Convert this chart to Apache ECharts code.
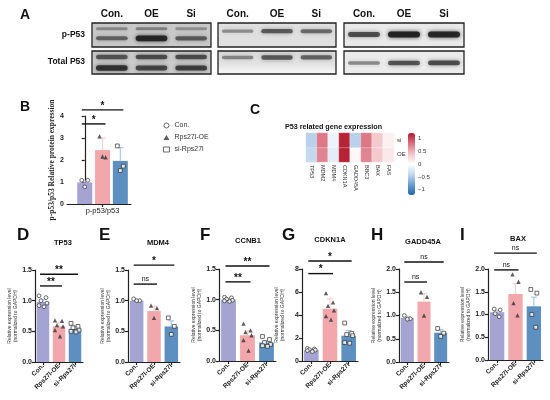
<!DOCTYPE html>
<html>
<head>
<meta charset="utf-8">
<script src="https://cdn.jsdelivr.net/npm/echarts@6/dist/echarts.min.js"></script>
<style>
  html, body { margin: 0; padding: 0; background: #fff; }
  #main { width: 550px; height: 400px; }
</style>
</head>
<body>
<div id="main"></div>
<script>
// ---------- data ----------
const lanes = ['Con.', 'OE', 'Si'];
// blot band intensity (0..1) per lane, one value per band
const blot1P = [[0.25, 0.5], [0.3, 0.95], [0.2, 0.55]];
const blot1T = [[0.6, 0.85], [0.65, 0.7], [0.65, 0.75]];
const blot2P = [[0.3], [0.6], [0.5]];
const blot2T = [[0.35], [0.6], [0.55]];
const blot3P = [[0.7], [1.0], [0.95]];
const blot3T = [[0.35], [0.65], [0.7]];

const groups = ['Con.', 'Rps27l-OE', 'si-Rps27l'];

// panel B
const bMean = [0.98, 2.45, 1.96];
const bSd = [0.06, 0.55, 0.6];
const bCon = [1.08, 1.08, 0.78];
const bOe = [3.08, 2.12, 2.16];
const bSi = [2.64, 1.72, 1.52];
const bSig = [[0, 1, 3.64, '*'], [0, 2, 4.28, '*']];

// panel C
const genes = ['TP53', 'MDM2', 'MDM4', 'CDKN1A', 'GADD45A', 'BBC3', 'BAX', 'FAS'];
const heatRows = ['OE', 'si'];
const heatOE = [-0.4, 0.7, -0.18, 1.15, 0.05, 0.7, 0.35, 0.15];
const heatSi = [-0.45, 0.75, -0.12, 1.15, -0.45, 0.75, 0.35, 0.1];
const cbarTicks = [-1, -0.5, 0, 0.5, 1];

// panels D - I
const tp53Mean = [0.98, 0.58, 0.54], tp53Sd = [0.04, 0.07, 0.04];
const tp53Con = [1.08, 1.05, 1.0, 0.96, 0.92, 0.9];
const tp53Oe = [0.68, 0.67, 0.6, 0.58, 0.52, 0.42];
const tp53Si = [0.63, 0.58, 0.56, 0.52, 0.5, 0.49];
const tp53Sig = [[0, 1, 1.24, '**'], [0, 2, 1.43, '**']];

const mdm4Mean = [1.0, 0.83, 0.58], mdm4Sd = [0.02, 0.08, 0.09];
const mdm4Con = [1.03, 1.0, 1.0];
const mdm4Oe = [0.92, 0.88, 0.72];
const mdm4Si = [0.72, 0.58, 0.45];
const mdm4Sig = [[0, 1, 1.27, 'ns'], [0, 2, 1.58, '*']];

const ccnb1Mean = [1.0, 0.42, 0.3], ccnb1Sd = [0.02, 0.07, 0.03];
const ccnb1Con = [1.04, 1.03, 1.01, 0.99, 0.98, 0.97];
const ccnb1Oe = [0.61, 0.5, 0.47, 0.42, 0.34, 0.17];
const ccnb1Si = [0.4, 0.35, 0.3, 0.27, 0.25, 0.24];
const ccnb1Sig = [[0, 1, 1.29, '**'], [0, 2, 1.55, '**']];

const cdkn1aMean = [0.97, 4.55, 2.2], cdkn1aSd = [0.05, 0.85, 0.45];
const cdkn1aCon = [1.1, 1.05, 1.0, 0.95, 0.9, 0.82];
const cdkn1aOe = [5.9, 5.1, 4.8, 4.4, 3.9, 3.6];
const cdkn1aSi = [3.3, 2.4, 2.3, 2.2, 1.6, 1.55];
const cdkn1aSig = [[0, 1, 7.6, '*'], [0, 2, 8.7, '*']];

const gadd45aMean = [0.95, 1.3, 0.63], gadd45aSd = [0.03, 0.17, 0.07];
const gadd45aCon = [1.0, 0.93, 0.92];
const gadd45aOe = [1.5, 1.4, 1.0];
const gadd45aSi = [0.72, 0.62, 0.55];
const gadd45aSig = [[0, 1, 1.72, 'ns'], [0, 2, 2.15, 'ns']];

const baxMean = [1.05, 1.45, 1.18], baxSd = [0.04, 0.23, 0.2];
const baxCon = [1.12, 1.1, 1.02, 0.95];
const baxOe = [1.88, 1.72, 1.25, 0.98];
const baxSi = [1.55, 1.47, 1.0, 0.72];
const baxSig = [[0, 1, 1.98, 'ns'], [0, 2, 2.35, 'ns']];

// ---------- styles ----------
const FONT = 'Liberation Sans, Arial, sans-serif';
const barColors = ['#a4a3d1', '#f1a7ab', '#5d8fc0'];
const errColors = ['#cbcae8', '#f8cfd2', '#a8c6e2'];
const markStyles = [
  { symbol: 'circle', symbolSize: 3.8, itemStyle: { color: '#fff', borderColor: '#333', borderWidth: 0.9 } },
  { symbol: 'triangle', symbolSize: 4.3, itemStyle: { color: '#333' } },
  { symbol: 'rect', symbolSize: 3.8, itemStyle: { color: '#fff', borderColor: '#333', borderWidth: 0.9 } }
];
const jitter = { 3: [-3, 3, 0], 4: [-3, 3, -2, 2], 6: [-4, 3, -2, 4, -4, 1] };

const grids = [], xAxes = [], yAxes = [], series = [], graphics = [];
function addGrid(g, x, y) {
  grids.push(g);
  const i = grids.length - 1;
  x.gridIndex = i; y.gridIndex = i;
  xAxes.push(x); yAxes.push(y);
  return i;
}
function text(x, y, s, size, opt) {
  graphics.push({ type: 'text', x: x, y: y, style: Object.assign({
    text: s, fontSize: size, fontFamily: FONT, fontWeight: 'bold', fill: '#111',
    textAlign: 'left', textVerticalAlign: 'middle' }, opt || {}) });
}

// ---------- A: blots ----------
const blotBoxes = [
  { data: blot1P, left: 92, top: 23, width: 119, height: 24, bandY: [0.76, 0.36], bg: '#c9c9c9', header: true },
  { data: blot1T, left: 92, top: 51, width: 119, height: 23, bandY: [0.74, 0.26], bg: '#cbcbcb' },
  { data: blot2P, left: 218, top: 23, width: 118, height: 24, bandY: [0.66], bg: '#e0e0e0', header: true },
  { data: blot2T, left: 218, top: 51, width: 118, height: 23, bandY: [0.72],
    bg: new echarts.graphic.LinearGradient(0, 0, 0, 1, [{ offset: 0, color: '#d8d8d8' }, { offset: 0.6, color: '#e4e4e4' }, { offset: 1, color: '#fbfbfb' }]) },
  { data: blot3P, left: 344, top: 23, width: 120, height: 24, bandY: [0.52], bg: '#e9e9e9', header: true },
  { data: blot3T, left: 344, top: 51, width: 120, height: 23, bandY: [0.48], bg: '#ebebeb' }
];
blotBoxes.forEach(function (b) {
  const gi = addGrid(
    { left: b.left, top: b.top, width: b.width, height: b.height, show: true,
      backgroundColor: b.bg, borderColor: '#222', borderWidth: 1.3 },
    { type: 'category', data: lanes, position: 'top',
      axisLine: { show: false }, axisTick: { show: false },
      axisLabel: { show: !!b.header, margin: 4, fontSize: 10, fontWeight: 'bold', color: '#111', fontFamily: FONT } },
    { type: 'value', min: 0, max: 1, show: false }
  );
  const d = [];
  b.data.forEach(function (lane, i) { lane.forEach(function (v, j) { d.push([i, j, v]); }); });
  series.push({
    type: 'custom', xAxisIndex: gi, yAxisIndex: gi, data: d, silent: true,
    renderItem: function (params, api) {
      const lane = api.value(0), band = api.value(1), inten = api.value(2);
      const w = api.size([1, 0])[0] * 0.8;
      const c = api.coord([lane, b.bandY[band]]);
      const h = 2 + inten * 4;
      const a = (0.15 + inten * 0.75).toFixed(2);
      return { type: 'rect',
        shape: { x: c[0] - w / 2, y: c[1] - h / 2, width: w, height: h, r: h / 2 },
        style: { fill: 'rgba(25,25,25,' + a + ')', shadowBlur: 4, shadowColor: 'rgba(25,25,25,' + a + ')' } };
    }
  });
});
text(85, 35, 'p-P53', 8.5, { textAlign: 'right' });
text(85, 62, 'Total P53', 8.5, { textAlign: 'right' });

// ---------- shared renderers ----------
function errSeries(gi, mean, sd) {
  return { type: 'custom', xAxisIndex: gi, yAxisIndex: gi, z: 3, silent: true,
    data: mean.map(function (m, i) { return [i, m, sd[i]]; }),
    renderItem: function (params, api) {
      const x = api.value(0), m = api.value(1), s = api.value(2);
      const p0 = api.coord([x, m]), p1 = api.coord([x, m + s]);
      const st = { stroke: errColors[x], lineWidth: 1.2 };
      return { type: 'group', children: [
        { type: 'line', shape: { x1: p0[0], y1: p0[1], x2: p1[0], y2: p1[1] }, style: st },
        { type: 'line', shape: { x1: p1[0] - 3, y1: p1[1], x2: p1[0] + 3, y2: p1[1] }, style: st }
      ] };
    } };
}
function sigSeries(gi, sig) {
  return { type: 'custom', xAxisIndex: gi, yAxisIndex: gi, z: 5, silent: true,
    data: sig.map(function (s) { return [s[0], s[1], s[2]]; }),
    renderItem: function (params, api) {
      const pa = api.coord([api.value(0), api.value(2)]);
      const pb = api.coord([api.value(1), api.value(2)]);
      const lab = sig[params.dataIndex][3];
      const star = lab.indexOf('*') >= 0;
      return { type: 'group', children: [
        { type: 'line', shape: { x1: pa[0] - 3, y1: pa[1], x2: pb[0] + 3, y2: pb[1] }, style: { stroke: '#111', lineWidth: 1.4 } },
        { type: 'text', x: (pa[0] + pb[0]) / 2, y: pa[1] - (star ? 4 : 5),
          style: { text: lab, fontSize: star ? 10 : 7, fontWeight: star ? 'bold' : 'normal', fontFamily: FONT,
                   fill: '#111', textAlign: 'center', textVerticalAlign: 'middle' } }
      ] };
    } };
}
function pointSeries(gi, gIdx, vals) {
  const js = jitter[vals.length] || [0];
  return Object.assign({ type: 'scatter', name: groups[gIdx], xAxisIndex: gi, yAxisIndex: gi, z: 4, silent: true,
    data: vals.map(function (v, k) { return { value: [gIdx, v], symbolOffset: [js[k % js.length], 0] }; }) },
    markStyles[gIdx]);
}
function barSeries(gi, mean, width) {
  return { type: 'bar', xAxisIndex: gi, yAxisIndex: gi, z: 2, silent: true, barWidth: width,
    data: mean.map(function (m, i) { return { value: [i, m], itemStyle: { color: barColors[i] } }; }) };
}
const axisLineStyle = { show: true, lineStyle: { color: '#222', width: 1.2 } };
const axisTickStyle = { show: true, length: 3, lineStyle: { color: '#222', width: 1.2 } };

// ---------- B ----------
text(20, 107, 'B', 14);
const gB = addGrid(
  { left: 67, top: 116, width: 64, height: 88 },
  { type: 'value', min: -1, max: 2.6, axisLine: axisLineStyle,
    axisTick: Object.assign({}, axisTickStyle, { customValues: [1] }),
    splitLine: { show: false },
    axisLabel: { customValues: [1], formatter: function () { return 'p-p53/p53'; }, margin: 3,
                 fontSize: 7.5, color: '#222', fontFamily: FONT } },
  { type: 'value', min: 0, max: 4, interval: 1, axisLine: axisLineStyle, axisTick: axisTickStyle,
    splitLine: { show: false },
    axisLabel: { fontSize: 7, fontWeight: 'bold', color: '#222', margin: 3, fontFamily: FONT },
    name: 'p-p53/p53 Relative protein expression', nameLocation: 'middle', nameGap: 11,
    nameTextStyle: { fontFamily: 'Liberation Serif, Times New Roman, serif', fontSize: 7.5, fontWeight: 'bold', color: '#222' } }
);
series.push(barSeries(gB, bMean, 15));
series.push(errSeries(gB, bMean, bSd));
[bCon, bOe, bSi].forEach(function (v, i) { series.push(pointSeries(gB, i, v)); });
series.push(sigSeries(gB, bSig));

// ---------- C ----------
text(250, 110, 'C', 14);
text(285, 127, 'P53 related gene expression', 7.2);
const gC = addGrid(
  { left: 306, top: 133, width: 88, height: 29 },
  { type: 'category', data: genes, axisLine: { show: false }, axisTick: { show: false },
    axisLabel: { rotate: -90, fontSize: 5.5, color: '#333', margin: 3, fontFamily: FONT, interval: 0 } },
  { type: 'category', data: heatRows, position: 'right', axisLine: { show: false }, axisTick: { show: false },
    axisLabel: { fontSize: 6, color: '#333', margin: 3, fontFamily: FONT } }
);
const heatData = [];
genes.forEach(function (g, i) { heatData.push([i, 0, heatOE[i]]); heatData.push([i, 1, heatSi[i]]); });
series.push({ type: 'heatmap', xAxisIndex: gC, yAxisIndex: gC, data: heatData, silent: true,
  itemStyle: { borderColor: 'rgba(255,255,255,0.5)', borderWidth: 0.5 } });
const heatSeriesIndex = series.length - 1;
addGrid(
  { left: 408, top: 133, width: 7, height: 62 },
  { type: 'value', show: false, min: 0, max: 1 },
  { type: 'value', min: -1.2, max: 1.2, position: 'right', axisLine: { show: false },
    splitLine: { show: false },
    axisTick: { show: true, length: 2, customValues: cbarTicks, lineStyle: { color: '#555' } },
    axisLabel: { customValues: cbarTicks, fontSize: 6, color: '#333', margin: 3, fontFamily: FONT,
                 formatter: function (v) { return String(v).replace('-', '\u2212'); } } }
);

// ---------- D - I ----------
const panels = [
  { key: 'D', title: 'TP53', mean: tp53Mean, sd: tp53Sd, pts: [tp53Con, tp53Oe, tp53Si], sig: tp53Sig, max: 1.5, step: 0.5,
    left: 35, top: 270, width: 48, height: 92, lx: 17, tx: 63, ty: 243 },
  { key: 'E', title: 'MDM4', mean: mdm4Mean, sd: mdm4Sd, pts: [mdm4Con, mdm4Oe, mdm4Si], sig: mdm4Sig, max: 1.5, step: 0.5,
    left: 128, top: 270, width: 52, height: 92, lx: 99, tx: 158, ty: 243 },
  { key: 'F', title: 'CCNB1', mean: ccnb1Mean, sd: ccnb1Sd, pts: [ccnb1Con, ccnb1Oe, ccnb1Si], sig: ccnb1Sig, max: 1.5, step: 0.5,
    left: 219, top: 269, width: 57, height: 92, lx: 200, tx: 248, ty: 241 },
  { key: 'G', title: 'CDKN1A', mean: cdkn1aMean, sd: cdkn1aSd, pts: [cdkn1aCon, cdkn1aOe, cdkn1aSi], sig: cdkn1aSig, max: 8, step: 2,
    left: 302, top: 269, width: 56, height: 92, lx: 282, tx: 330, ty: 240 },
  { key: 'H', title: 'GADD45A', mean: gadd45aMean, sd: gadd45aSd, pts: [gadd45aCon, gadd45aOe, gadd45aSi], sig: gadd45aSig, max: 2, step: 0.5,
    left: 399, top: 269, width: 50, height: 93, lx: 371, tx: 423, ty: 242 },
  { key: 'I', title: 'BAX', mean: baxMean, sd: baxSd, pts: [baxCon, baxOe, baxSi], sig: baxSig, max: 2, step: 0.5,
    left: 488, top: 269, width: 55, height: 91, lx: 460, tx: 518, ty: 239 }
];
panels.forEach(function (p) {
  text(p.lx, 235, p.key, 17);
  text(p.tx, p.ty, p.title, 7.5, { textAlign: 'center' });
  const gi = addGrid(
    { left: p.left, top: p.top, width: p.width, height: p.height },
    { type: 'category', data: groups, axisLine: axisLineStyle,
      axisTick: Object.assign({ alignWithLabel: true }, axisTickStyle),
      axisLabel: { rotate: 45, interval: 0, fontSize: 6.5, fontWeight: 'bold', color: '#222', margin: 3, fontFamily: FONT } },
    { type: 'value', min: 0, max: p.max, interval: p.step, axisLine: axisLineStyle, axisTick: axisTickStyle,
      splitLine: { show: false },
      axisLabel: { fontSize: 7, fontWeight: 'bold', color: '#222', margin: 3, fontFamily: FONT,
                   formatter: function (v) { return p.step < 1 ? v.toFixed(1) : String(v); } },
      name: 'Relative expression level\n(normalized to GAPDH)', nameLocation: 'middle', nameGap: 16,
      nameTextStyle: { fontSize: 5, color: '#333', fontFamily: FONT, lineHeight: 6 } }
  );
  series.push(barSeries(gi, p.mean, '78%'));
  series.push(errSeries(gi, p.mean, p.sd));
  p.pts.forEach(function (v, i) { series.push(pointSeries(gi, i, v)); });
  series.push(sigSeries(gi, p.sig));
});

text(20, 15, 'A', 14);

const option = {
  animation: false,
  backgroundColor: '#fff',
  textStyle: { fontFamily: FONT },
  grid: grids,
  xAxis: xAxes,
  yAxis: yAxes,
  legend: {
    left: 158, top: 117, orient: 'vertical', itemWidth: 6, itemHeight: 5, itemGap: 5, selectedMode: false,
    textStyle: { fontSize: 7, color: '#333', fontFamily: FONT },
    data: groups.map(function (g, i) {
      return { name: g, icon: markStyles[i].symbol, itemStyle: markStyles[i].itemStyle };
    })
  },
  visualMap: {
    type: 'continuous', min: -1.2, max: 1.2, dimension: 2, seriesIndex: heatSeriesIndex,
    left: 408, top: 133, itemWidth: 7, itemHeight: 62, padding: 0, calculable: false, showLabel: false,
    inRange: { color: ['#2166ac', '#6a9fd0', '#c4d8ee', '#ffffff', '#f3c2c8', '#da6f7e', '#b2182b'] }
  },
  graphic: graphics,
  series: series
};
const chart = echarts.init(document.getElementById('main'));
chart.setOption(option);
</script>
</body>
</html>
